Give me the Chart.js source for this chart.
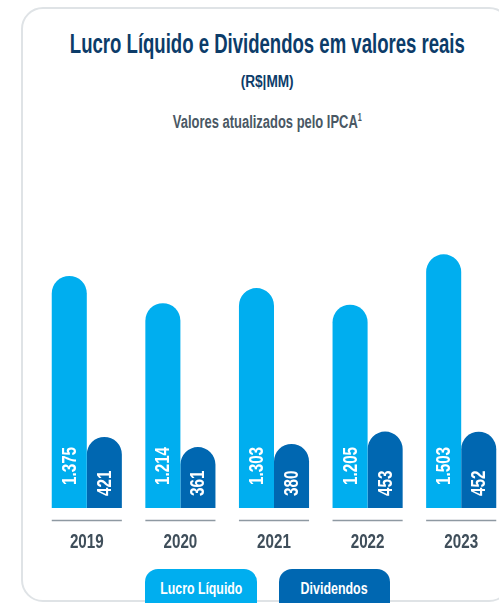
<!DOCTYPE html>
<html>
<head>
<meta charset="utf-8">
<script src="https://cdn.jsdelivr.net/npm/chart.js@4"></script>
<style>
	html, body {
		margin: 0;
		padding: 0;
		width: 499px;
		height: 603px;
		overflow: hidden;
		background: #fff;
		font-family: 'Liberation Sans', Arial, sans-serif;
	}
	.card {
		position: absolute;
		left: 21px;
		top: 7px;
		width: 486px;
		height: 591px;
		border: 2px solid #dfe3e6;
		border-radius: 22px;
	}
	.line {
		position: absolute;
		left: -100px;
		width: 734px;
		text-align: center;
		font-weight: bold;
		white-space: nowrap;
		line-height: 1;
	}
	.fit {
		display: inline-block;
		transform-origin: 50% 50%;
	}
	.legend {
		position: absolute;
		top: 569px;
		height: 40px;
		border-radius: 13px 13px 0 0;
		color: #fff;
		font-weight: bold;
		font-size: 16px;
		text-align: center;
		line-height: 40px;
		white-space: nowrap;
	}
	.wrap {
		position: absolute;
		left: 40px;
		top: 230px;
		width: 468px;
		height: 338px;
	}
</style>
</head>
<body>
<div class="card"></div>
<div class="line" style="top:31px;font-size:27px;color:#0c3c69;"><span class="fit" data-w="395">Lucro Líquido e Dividendos em valores reais</span></div>
<div class="line" style="top:74px;font-size:16px;color:#0c3c69;"><span class="fit" data-w="53">(R$|MM)</span></div>
<div class="line" style="top:113px;font-size:18px;color:#4a5864;"><span class="fit" data-w="189">Valores atualizados pelo IPCA<sup style="font-size:10px;vertical-align:7px">1</sup></span></div>
<div class="wrap"><canvas id="myChart"></canvas></div>
<div class="legend" style="left:145px;width:112px;background:#00aeef;"><span class="fit" data-w="82">Lucro Líquido</span></div>
<div class="legend" style="left:279px;width:111px;background:#0067b1;"><span class="fit" data-w="67">Dividendos</span></div>

<script>
const ctx = document.getElementById('myChart');

const years = ['2019', '2020', '2021', '2022', '2023'];
const lucroLiquido = [1375, 1214, 1303, 1205, 1503];
const dividendos = [421, 361, 380, 453, 452];

const lucroColor = '#00aeef';
const dividColor = '#0067b1';

// the reference uses a condensed face, so squeeze the text to its width
document.querySelectorAll('.fit').forEach(el => {
	const w = el.getBoundingClientRect().width;
	el.style.transform = 'scaleX(' + (el.dataset.w / w) + ')';
});

// rotated value labels, group lines and year labels
const barLabels = {
	id: 'barLabels',
	afterDatasetsDraw(chart) {
		const c = chart.ctx;
		const base = chart.scales.y.getPixelForValue(0);
		c.save();
		chart.data.datasets.forEach((ds, i) => {
			const meta = chart.getDatasetMeta(i);
			const offset = i === 0 ? 23 : 12;
			meta.data.forEach((bar, j) => {
				const txt = ds.data[j].toLocaleString('pt-BR');
				c.save();
				c.translate(bar.x + 1, base - offset);
				c.rotate(-Math.PI / 2);
				c.scale(0.76, 1);
				c.fillStyle = '#fff';
				c.font = 'bold 20px "Liberation Sans", Arial, sans-serif';
				c.textAlign = 'left';
				c.textBaseline = 'middle';
				c.fillText(txt, 0, 0);
				c.restore();
			});
		});
		const m0 = chart.getDatasetMeta(0);
		const m1 = chart.getDatasetMeta(1);
		years.forEach((y, j) => {
			const left = m0.data[j].x - m0.data[j].width / 2;
			const right = m1.data[j].x + m1.data[j].width / 2;
			c.strokeStyle = '#8e99a2';
			c.lineWidth = 1.5;
			c.beginPath();
			c.moveTo(left, base + 12.5);
			c.lineTo(right, base + 12.5);
			c.stroke();
			c.save();
			c.translate((left + right) / 2, base + 34);
			c.scale(0.76, 1);
			c.fillStyle = '#3f4e5a';
			c.font = 'bold 20px "Liberation Sans", Arial, sans-serif';
			c.textAlign = 'center';
			c.textBaseline = 'middle';
			c.fillText(y, 0, 0);
			c.restore();
		});
		c.restore();
	}
};

new Chart(ctx, {
	type: 'bar',
	data: {
		labels: years,
		datasets: [
			{
				label: 'Lucro Líquido',
				data: lucroLiquido,
				backgroundColor: lucroColor,
				borderRadius: { topLeft: 18, topRight: 18, bottomLeft: 0, bottomRight: 0 },
				borderSkipped: false,
				categoryPercentage: 0.749,
				barPercentage: 1.0
			},
			{
				label: 'Dividendos',
				data: dividendos,
				backgroundColor: dividColor,
				borderRadius: { topLeft: 18, topRight: 18, bottomLeft: 0, bottomRight: 0 },
				borderSkipped: false,
				categoryPercentage: 0.749,
				barPercentage: 1.0
			}
		]
	},
	options: {
		responsive: true,
		maintainAspectRatio: false,
		animation: false,
		layout: {
			padding: { top: 8, bottom: 60, left: 0, right: 0 }
		},
		plugins: {
			legend: false,
			tooltip: { enabled: false }
		},
		scales: {
			x: { display: false },
			y: { display: false, min: 0, max: 1600 }
		}
	},
	plugins: [barLabels]
});
</script>
</body>
</html>
